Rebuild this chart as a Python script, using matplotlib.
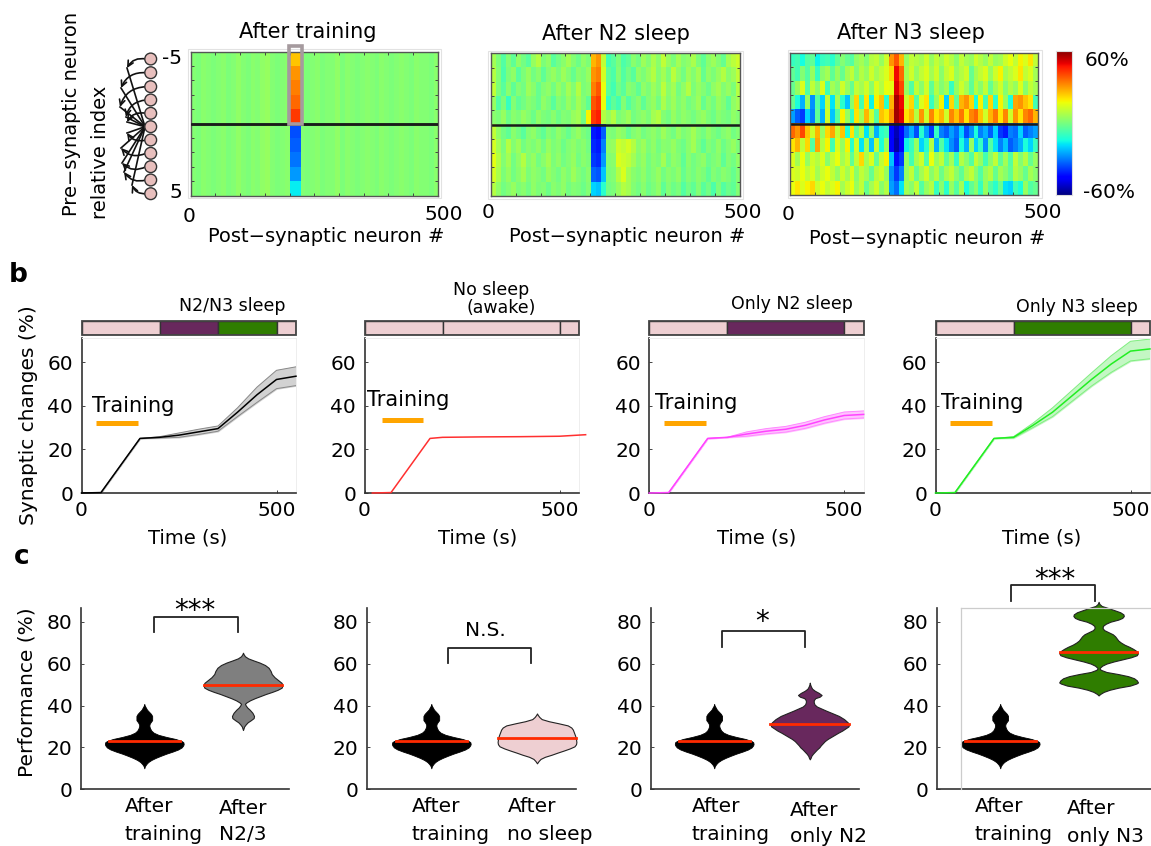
import numpy as np
import matplotlib
matplotlib.use("Agg")
from matplotlib import pyplot as plt
from matplotlib.patches import Rectangle, Circle

W, H = 1151, 846
plt.rcParams['font.family'] = ['DejaVu Sans']

# panel a, percent change per row (top to bottom), one value per 10 neurons
train_base = [1, 0, 2, 1, 0, 1, 2, 0, 1, 3, 1, 0, 2, 1, 3, 4, 1, 0, 1, 2,
              1, 1, 1, 0, 1, 2, 0, 1, 1, 3, 0, 2, 1, 0, 1, 2, 1, 0, 2, 1,
              0, 1, 2, 1, 0, 2, 1, 1, 0, 2]
train_hot = [24, 30, 33, 36, 42, -36, -34, -31, -27, -17]

n2_rows = [
    [6, 0, -6, 1, -4, 3, -1, -5, 4, 8, 0, 3, -5, -1, 2, 6, 1, -2, 3, 0, 26, 30, 10, -8, -5, 0, -7, -4, 2, -1, 5, 1, 7, 2, 10, 4, 0, 6, 1, 3, 7, 0, -4, 2, 5, 1, -3, 6, 9, 12],
    [8, 1, -7, 0, 3, -5, 0, 4, -1, 2, -4, 1, 4, 0, 5, 1, -3, 2, 0, 4, 30, 33, 13, -4, -7, 1, -6, -1, -5, 3, 0, 4, 8, 1, 6, 0, 9, 3, -1, 5, 1, 6, -3, 3, 0, 4, 8, 2, 5, 10],
    [10, 0, -5, 2, -4, 1, -1, 5, 2, -3, 1, 3, -1, 4, 0, 6, 1, 8, 0, 2, 33, 38, 16, -5, -8, -1, -5, 2, 0, -4, 3, 0, 5, 1, 9, 2, 6, -1, 3, 8, 0, 4, 1, -2, 3, 6, 1, 4, 0, 8],
    [4, -6, 0, -10, 1, -4, -1, 2, 0, -3, 3, 0, -5, 1, -1, 4, 0, 6, 1, -4, 38, 42, 16, -10, -4, -8, 1, -6, -1, 2, -4, 1, 4, -1, 7, 1, 5, 0, 3, -1, 1, 5, -3, 2, -1, 4, 1, -4, 3, 6],
    [2, 0, 4, -2, 2, 0, 4, 1, -2, 3, 0, -1, 2, -2, 1, 0, 4, 6, -1, 18, 42, 45, 8, 4, 8, 0, 2, 5, -1, 1, 3, 0, 6, 8, 1, -1, 4, 0, 3, 1, -1, 2, 4, 0, -2, 2, 0, -1, 3, 1],
    [10, 3, -1, -4, 2, -1, -5, 1, 3, -1, -4, 1, -1, 3, 0, -3, 1, 4, 0, -2, -42, -44, -34, 1, 0, 4, 2, -3, 1, 3, -1, 1, 3, 0, 5, 1, -1, 4, 0, 2, 6, 1, -1, 3, 0, -2, 1, 3, -1, 1],
    [13, 6, 0, 8, 1, 5, -1, 2, 0, 3, -1, 4, 0, 2, -2, 1, 3, 0, 2, -1, -40, -42, -30, 3, 4, 12, 10, 13, 8, 2, 5, 0, 3, -1, 2, 1, 4, 0, -2, 2, 6, 0, -4, 1, -1, 3, -2, 1, 4, 0],
    [15, 8, 1, 6, -1, 3, 8, 1, 4, -1, 2, 6, 0, 3, -1, 1, 4, -1, 2, 0, -38, -40, -27, 1, 2, 14, 12, 10, 6, 1, 4, -1, 2, 0, 6, -1, 3, 1, -4, 2, -1, 1, 3, -2, 0, 2, -4, 1, -1, 3],
    [13, 7, 0, 4, -1, 2, 6, 0, 3, 1, -1, 4, 1, -1, 3, 0, 5, 1, -1, 2, -33, -35, -22, 0, 1, 8, 14, 6, 2, 0, 3, -1, 1, 4, -1, 2, 0, 3, -3, 1, -1, 2, 0, -4, 1, -1, 2, 0, -3, 1],
    [8, 3, -1, 1, 4, 0, 2, -1, 3, 0, 1, -2, 2, 0, 3, -1, 1, 0, -2, 1, -20, -22, -12, -1, 0, 4, 8, 6, 1, -1, 2, -2, 0, 3, -4, 1, -2, 0, -6, -1, -4, 1, -5, -1, -7, 0, -6, -2, -4, 1],
]

n3_rows = [
    [-10, -8, -15, -6, -4, -16, -10, -8, -12, -4, 1, -3, -6, 3, 6, 1, 8, 10, 4, 12, 30, 38, 26, 4, 10, 8, 6, 12, 4, 10, 6, 12, 8, 2, 10, 6, 4, 12, 8, 4, 10, 4, 6, 12, 16, 10, 18, 14, 20, 10],
    [-4, -8, 1, -6, 4, -10, 2, 6, -4, 4, -3, 6, 10, 1, 8, 4, 12, 6, 10, 14, 22, 48, 36, 6, 12, 4, 10, 14, 6, 12, 2, 10, 14, 4, 8, 12, -3, 6, 10, 14, 4, 12, 18, 6, 10, 14, 20, 10, 14, 6],
    [-3, 4, 14, -6, 10, 2, 14, -8, 6, 1, 12, 4, -3, 10, 6, 12, 2, 14, 8, 16, 15, 50, 40, 4, -6, 10, 2, 12, -4, 8, 1, 6, -10, 4, 12, 6, -4, 8, 2, 10, -3, 6, 12, 1, 8, 4, 14, 2, 10, 6],
    [-3, -14, -24, 4, -28, -6, -20, 10, -18, 6, -12, -22, 2, 22, -8, 20, -16, 18, 24, -12, 26, 56, 48, 12, 22, -6, 14, 20, -10, 4, 18, -20, 22, -4, 26, 30, 22, -14, 18, -8, 22, -12, 18, 4, -14, 28, 30, 24, 20, -8],
    [-26, -34, -38, -20, -30, -4, -24, 12, -22, -6, 18, 4, -10, 20, 6, 26, 12, -6, 24, 20, 30, 56, 50, 20, 26, 8, 30, 12, 32, 20, 26, 12, 32, 24, 34, 20, 32, 36, 24, 12, 26, 34, 20, 32, 12, 30, 20, 32, 36, 26],
    [36, 30, 40, 24, 12, 26, 4, 22, 28, 10, 24, -14, 20, -4, 8, -18, 2, -24, -12, -8, -46, -54, -46, -32, -24, -36, -12, -26, -38, -10, -30, -34, -26, -32, -20, -36, -28, -14, -30, -24, -34, -20, -38, -42, -30, -32, -20, -34, -30, -26],
    [20, 26, 10, 22, -6, 28, 8, 18, -8, 14, 4, 18, -12, 12, -18, 6, -22, 10, -14, 4, -46, -56, -46, -16, -10, 4, -20, -12, 8, -24, -6, -18, -28, -34, -14, -24, 4, -20, -10, -28, -6, -18, -30, -22, -34, -30, -24, -14, -20, -10],
    [14, 6, 16, 4, 12, 8, 14, 2, 10, 16, 6, 12, -4, 10, 22, 6, 14, -3, 10, 18, -22, -44, -38, 4, -8, 6, 12, -6, 16, 4, 10, -4, 6, -10, 8, 2, -6, 10, 4, -8, 2, 10, -4, 6, -6, 10, 1, 8, -3, 4],
    [14, 12, 16, 10, 14, 6, 12, 16, 10, 4, 12, 6, 14, 2, 10, 6, -3, 8, 12, 4, -28, -38, -30, 4, 10, -3, 6, 12, 2, 8, -2, 6, 10, 2, -4, 6, 10, 2, -6, 4, 8, -3, 6, 2, -4, 8, 4, -3, 6, 2],
    [16, 20, 14, 18, 22, 12, 16, 10, 14, 18, 6, 12, 16, 4, 10, -3, 6, 12, 2, 8, -26, -32, -18, 6, 2, 10, -6, 4, 8, -10, 2, -12, 4, -6, 6, -14, -4, 2, -10, 4, -6, -12, -3, -18, -20, -8, -14, 4, -6, -3],
]

# panel b
time_s = [0, 50, 150, 200, 250, 300, 350, 400, 450, 500, 550]
mean_both = [0, 0.2, 25, 25.5, 26.5, 28, 29.5, 37, 45, 52, 53.5]
band_both = [0, 0, 0, 0.3, 1, 1.2, 1.2, 2, 3.5, 4.2, 4.3]
time_awake = [20, 68, 168, 200, 300, 400, 500, 567]
mean_awake = [0, 0.2, 25, 25.5, 25.7, 25.8, 26, 26.7]
mean_n2 = [0, 0.2, 25, 25.5, 27, 28.3, 29.2, 31, 33.5, 35.5, 36]
band_n2 = [0, 0, 0, 0, 1, 1.2, 1.3, 1.4, 1.5, 1.6, 1.6]
mean_n3 = [0, 0.2, 25, 25.5, 31, 37, 44.5, 52, 59, 65, 66]
band_n3 = [0, 0, 0, 0.3, 1, 2, 2.5, 3, 3.8, 4.5, 4.5]

# sleep stage bars: segment edges and colour name
stage_edges = [[0, 200, 350, 500, 550], [0, 200, 500, 550], [0, 200, 500, 550], [0, 200, 500, 550]]
stage_names = [['wake', 'n2', 'n3', 'wake'], ['wake', 'wake', 'wake'], ['wake', 'n2', 'wake'], ['wake', 'n3', 'wake']]
stage_colors = {'wake': '#eecfd2', 'n2': '#68285d', 'n3': '#2f7d00'}

# panel c, violin outlines: performance value and relative half width
train_val = [40.7, 40, 39, 38, 37, 36, 35, 34, 33, 32, 31, 30, 29, 28, 27, 26, 25, 24, 23, 22.5, 21.7, 21, 20, 19, 18, 17, 16, 15, 14, 13, 12, 11, 10]
train_wid = [0, .01, .04, .07, .12, .17, .2, .2, .2, .16, .13, .13, .15, .18, .24, .36, .56, .8, .95, .99, 1, .99, .95, .86, .72, .56, .42, .29, .18, .1, .05, .015, 0]
both_val = [65.2, 64.5, 63.5, 62.5, 61.5, 60.5, 59.3, 58, 56.5, 55, 53.5, 52, 50.8, 49.5, 48.5, 47.5, 46.5, 45.5, 44.5, 43.5, 42.5, 41.5, 40.8, 40, 39, 38, 36.5, 35, 34, 33, 32, 31, 30, 28.3]
both_wid = [0, .015, .05, .13, .27, .42, .56, .65, .7, .73, .8, .9, .98, 1, .98, .88, .74, .58, .44, .3, .18, .09, .05, .07, .11, .17, .24, .28, .27, .2, .12, .07, .03, 0]
awake_val = [36.2, 35.5, 34.5, 33.5, 32.5, 31.5, 30.5, 29.5, 28.5, 27, 25.5, 24, 22.5, 21.5, 20.5, 19.5, 18.5, 17.5, 16.5, 15.5, 14.5, 13.5, 12.4]
awake_wid = [0, .02, .06, .12, .3, .55, .78, .87, .91, .94, .97, .99, 1, .99, .95, .83, .68, .52, .37, .2, .09, .04, 0]
n2_val = [50.9, 50, 49, 48, 47, 46, 45, 44.2, 43.5, 42.5, 41.5, 40.5, 39.5, 38.5, 37.5, 36.5, 35, 33.5, 32, 31, 30, 29, 28, 27, 26, 25, 24, 23, 22, 21, 20, 19, 18, 17, 16, 15, 14.3]
n2_wid = [0, .01, .03, .06, .13, .23, .3, .25, .14, .1, .1, .12, .18, .3, .42, .55, .74, .87, .96, 1, .98, .9, .82, .72, .63, .54, .45, .38, .33, .28, .24, .18, .13, .08, .04, .02, 0]
n3_val = [89.5, 88.5, 87.5, 86.5, 85.5, 84.5, 83.5, 82.7, 81.8, 81, 80, 79, 78, 77, 76, 75, 74, 73, 72, 71, 70, 69, 68, 67, 66, 65, 64, 63, 62, 61, 60, 59, 58, 57.5, 57, 56, 55, 54, 53, 52, 51, 50.5, 49.5, 48.5, 47.5, 46.5, 45.5, 44.8]
n3_wid = [0, .02, .08, .25, .4, .55, .63, .64, .6, .5, .3, .18, .11, .1, .14, .25, .36, .42, .46, .5, .57, .66, .78, .88, .96, 1, .97, .82, .6, .38, .2, .09, .03, .03, .06, .2, .5, .75, .9, .97, 1, .96, .8, .5, .28, .13, .04, 0]
medians = [23, 50, 24.6, 31, 65.6]
median_wid = [.9, .98, .98, 1, .98]

fig = plt.figure(figsize=(W / 100, H / 100), dpi=100)


def px_axes(x0, y0, x1, y1):
    return fig.add_axes([x0 / W, 1 - y1 / H, (x1 - x0) / W, (y1 - y0) / H])


def heat_panel(box, rows):
    ax = px_axes(*box)
    rows = np.array(rows)
    ax.imshow(rows, cmap='jet', vmin=-60, vmax=60, aspect='auto', extent=[0, 500, 5, -5], interpolation='nearest')
    ax.axhline(0, color='#1a1a1a', lw=1.8)
    ax.set_xticks(np.arange(0, 501, 50))
    ax.set_yticks(np.arange(-5, 6))
    ax.tick_params(direction='in', length=2.5, width=0.7, top=True, right=True, color='#444444',
                   labelbottom=False, labelleft=False)
    for s in ax.spines.values():
        s.set_color('#555555')
        s.set_linewidth(1)
    return ax


# row a
heat_boxes = [(190.7, 51.7, 437.7, 195.7), (490.7, 53.3, 740, 196), (790, 52.7, 1038, 195)]
train_rows = [train_base for i in range(10)]
ax_train = heat_panel(heat_boxes[0], train_rows)
ax_train.pcolormesh([201, 224], np.arange(-5, 6), np.array(train_hot).reshape(10, 1), cmap='jet', vmin=-60, vmax=60)
ax_train.set_ylim(5, -5)
ax_train.set_xlim(0, 500)
ax_train.axhline(0, color='#1a1a1a', lw=1.8, zorder=5)
heat_panel(heat_boxes[1], n2_rows)
heat_panel(heat_boxes[2], n3_rows)

ax_cbar = px_axes(1055.7, 50.7, 1072.3, 195)
ax_cbar.imshow(np.linspace(60, -60, 256).reshape(-1, 1), cmap='jet', aspect='auto')
ax_cbar.set_xticks([])
ax_cbar.set_yticks([])
for s in ax_cbar.spines.values():
    s.set_color('#dddddd')

# row b
line_sets = [
    (time_s, mean_both, band_both, 'black', '#d2d2d2', '#888888'),
    (time_awake, mean_awake, None, '#ff3030', None, None),
    (time_s, mean_n2, band_n2, '#ff44ff', '#ffc4ff', '#ff88ff'),
    (time_s, mean_n3, band_n3, '#22ee22', '#c4f7c4', '#80ee80'),
]
b_left = [81.5, 364.5, 649.2, 935.5]
for i, (t, m, band, col, fill, edge) in enumerate(line_sets):
    x0 = b_left[i]
    ax_bar = px_axes(x0, 320.5, x0 + 214.5, 335)
    edges = stage_edges[i]
    for j, name in enumerate(stage_names[i]):
        ax_bar.barh(0, edges[j + 1] - edges[j], left=edges[j], height=1, color=stage_colors[name],
                    edgecolor='#333333', lw=1)
    ax_bar.set_xlim(0, 550)
    ax_bar.set_ylim(-0.5, 0.5)
    ax_bar.axis('off')
    ax_bar.add_patch(Rectangle((0, 0), 1, 1, transform=ax_bar.transAxes, fill=False, ec='#444444', lw=1.3, clip_on=False))

    ax = px_axes(x0, 338, x0 + 214.5, 493)
    if band is not None:
        m_arr = np.array(m)
        b_arr = np.array(band)
        ax.fill_between(t, m_arr - b_arr, m_arr + b_arr, color=fill, zorder=2)
        ax.plot(t, m_arr + b_arr, color=edge, lw=0.7, zorder=2)
        ax.plot(t, m_arr - b_arr, color=edge, lw=0.7, zorder=2)
    ax.plot(t, m, color=col, lw=1.1, zorder=3, clip_on=False)
    ax.set_xlim(0, 550)
    ax.set_ylim(0, 71)
    ax.set_xticks([0, 500])
    ax.set_yticks([0, 20, 40, 60])
    ax.tick_params(direction='in', length=2.5, width=0.7, labelsize=14.5, pad=6, color='#444444')
    for name in ['top', 'right']:
        ax.spines[name].set_color('#eeeeee')
        ax.spines[name].set_linewidth(0.7)
    for name in ['left', 'bottom']:
        ax.spines[name].set_color('#333333')
        ax.spines[name].set_linewidth(1.2)
    ax.patch.set_alpha(0)

# row c
violin_sets = [
    (both_val, both_wid, '#7f7f7f', 1),
    (awake_val, awake_wid, '#eecfd2', 2),
    (n2_val, n2_wid, '#68285d', 3),
    (n3_val, n3_wid, '#2f7d00', 4),
]
c_boxes = [(81, 608.3, 289), (366.6, 608.3, 576), (651, 608.3, 859.3), (936.6, 608.3, 1151)]
c_center = [(144.3, 243), (431.3, 537), (714.2, 809.8), (1000.2, 1098.6)]
for i, (val, wid, col, med) in enumerate(violin_sets):
    x0, y0, x1 = c_boxes[i]
    ax = px_axes(x0, y0, x1, 789.3)
    c1, c2 = c_center[i]
    step = c2 - c1
    ax.set_xlim(1 + (x0 - c1) / step, 1 + (x1 - c1) / step)
    ax.set_ylim(0, 86.4)
    half = 39.4 / step
    tw = np.array(train_wid) * half
    ax.fill_betweenx(train_val, 1 - tw, 1 + tw, color='black', lw=0.6, clip_on=False, zorder=3)
    ax.plot([1 - median_wid[0] * half, 1 + median_wid[0] * half], [medians[0]] * 2, color='#ff2a00', lw=2, zorder=4)
    w = np.array(wid) * half
    ax.fill_betweenx(val, 2 - w, 2 + w, facecolor=col, edgecolor='#222222', lw=0.8, clip_on=False, zorder=3)
    ax.plot([2 - median_wid[med] * half, 2 + median_wid[med] * half], [medians[med]] * 2, color='#ff2a00', lw=2, zorder=4, clip_on=False)
    ax.set_xticks([])
    ax.set_yticks([0, 20, 40, 60, 80])
    ax.tick_params(direction='in', length=2.5, width=0.7, labelsize=14.5, pad=6, color='#444444')
    ax.spines['top'].set_visible(False)
    ax.spines['right'].set_visible(False)
    for name in ['left', 'bottom']:
        ax.spines[name].set_color('#333333')
        ax.spines[name].set_linewidth(1.2)
    ax.patch.set_alpha(0)

# overlay in image pixels for labels, brackets and the small network sketch
ov = fig.add_axes([0, 0, 1, 1], zorder=10)
ov.set_xlim(0, W)
ov.set_ylim(H, 0)
ov.axis('off')


def label(x, y, s, size=14.5, ha='center', **kw):
    ov.text(x, y, s, fontsize=size, ha=ha, va='center', **kw)


# outer pale frames of the heat maps
for x0, y0, x1, y1 in [(188, 49, 441, 198), (488, 51, 743, 199), (788, 50, 1042, 198)]:
    ov.add_patch(Rectangle((x0, y0), x1 - x0, y1 - y0, fill=False, ec='#e2e2e2', lw=0.8))
ov.add_patch(Rectangle((289, 46.5), 13.5, 77.5, fill=False, ec='#a59a9e', lw=2.6))

label(308, 32, 'After training', 15)
label(615.7, 34, 'After N2 sleep', 15)
label(911, 33, 'After N3 sleep', 15)
for x, y in [(326, 237), (627.5, 236), (927.5, 238)]:
    label(x, y, 'Post\u2212synaptic neuron #', 14)
for (x0, y0), (x5, y5) in [((189, 216), (444, 215)), ((488, 213), (743, 212)), ((788, 214), (1043, 213))]:
    label(x0, y0, '0', 14.5)
    label(x5, y5, '500', 14.5)
label(182, 59, '-5', 14.5, ha='right')
label(182, 192, '5', 14.5, ha='right')
label(1085, 60, '60%', 14.5, ha='left')
label(1083, 192.7, '-60%', 14.5, ha='left')
label(72, 114, 'Pre\u2212synaptic neuron', 14, rotation=90)
label(101, 152, 'relative index', 14, rotation=90)

node_y = [59, 72.7, 86.7, 100, 113.3, 126.7, 140, 153.3, 166.7, 180, 193.7]
head_xy = [(127, 68), (121, 88), (120, 107), (126, 117), (127, 122), None, (127, 133), (121, 148), (122, 163), (124, 172), (132, 185)]
for y, head in zip(node_y, head_xy):
    if head is not None:
        ov.annotate('', xy=head, xytext=(146, y), arrowprops=dict(arrowstyle='->', color='#111111', lw=1.2, shrinkA=0, shrinkB=0,
                    connectionstyle='arc3,rad=%.2f' % (0.35 if y < 126 else -0.35)))
        ov.plot([head[0], 145], [head[1], 126.7], color='#111111', lw=1.2)
for y in node_y:
    ov.add_patch(Circle((150.7, y), 5.9, fc='#e8bfbd', ec='#333333', lw=1, zorder=5))

label(18, 275, 'b', 19, fontweight='bold')
label(22, 557, 'c', 19, fontweight='bold')

label(232, 305.7, 'N2/N3 sleep', 12.5)
label(491.6, 290, 'No sleep', 12.5)
label(501, 307.7, '(awake)', 12.5)
label(792.4, 304, 'Only N2 sleep', 12.5)
label(1076.8, 306.7, 'Only N3 sleep', 12.5)
for x in [187.7, 477.8, 756.4, 1042]:
    label(x, 538, 'Time (s)', 14)
label(28.7, 415, 'Synaptic changes (%)', 14.5, rotation=90)
label(26.8, 692, 'Performance (%)', 14.5, rotation=90)

for x, y, bx0, bx1, by in [(92, 406, 95.7, 137.8, 422.7), (367.4, 400, 381.6, 423.3, 420),
                           (655.5, 402.7, 664, 705.8, 422.7), (940.8, 403, 950, 991.8, 423)]:
    label(x, y, 'Training', 15, ha='left')
    ov.plot([bx0, bx1], [by, by], color='#ffa500', lw=3.6, solid_capstyle='butt')

for xa, xb, top, low, s, tx, ty in [(154, 237.7, 617, 632, '***', 194.4, 611),
                                    (447.8, 530.8, 648, 663, 'N.S.', 485, 631),
                                    (721.6, 805.2, 631, 646.7, '*', 761.6, 622),
                                    (1011, 1094.7, 585, 600.7, '***', 1055, 580)]:
    ov.plot([xa, xa, xb, xb], [low, top, top, low], color='#222222', lw=1.3)
    label(tx, ty, s, 20 if '*' in s else 14.5)

ov.plot([960.9, 960.9], [789, 608.3], color='#cccccc', lw=0.9)
ov.plot([960.9, 1151], [608.3, 608.3], color='#cccccc', lw=0.9)

pairs = [(124.4, 807, 'After', 124.4, 834, 'training'), (219, 808, 'After', 219, 834, 'N2/3'),
         (412, 807, 'After', 412, 835, 'training'), (507.5, 806, 'After', 507.5, 834, 'no sleep'),
         (692, 807, 'After', 692, 834, 'training'), (790, 810, 'After', 790, 836, 'only N2'),
         (974.5, 807, 'After', 974.5, 834, 'training'), (1067.3, 808, 'After', 1067.3, 836, 'only N3')]
for xa, ya, sa, xb, yb, sb in pairs:
    label(xa, ya, sa, 14.5, ha='left')
    label(xb, yb, sb, 14.5, ha='left')

fig.savefig('out.png', dpi=100)
